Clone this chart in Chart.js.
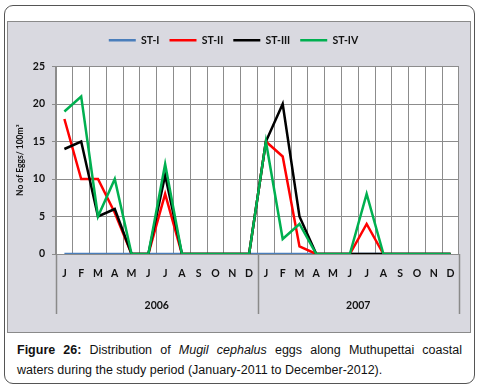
<!DOCTYPE html>
<html>
<head>
<meta charset="utf-8">
<script src="https://cdn.jsdelivr.net/npm/chart.js@4/dist/chart.umd.min.js"></script>
<style>
    html, body { margin: 0; padding: 0; background: #fff; }
    body { width: 480px; height: 392px; position: relative; overflow: hidden; }
    #frame {
        position: absolute; left: 4px; top: 5px; width: 469px; height: 377px;
        border: 1.5px solid #555; border-radius: 9px;
    }
    #panel {
        position: absolute; left: 7px; top: 21px; width: 462px; height: 310px;
        background: #d9d9e0; border: 1.5px solid #8a8a8a;
    }
    #chart_box { position: absolute; left: 0; top: 0; width: 462px; height: 310px; }
    #caption {
        position: absolute; left: 17px; top: 340px; width: 445px;
        font-family: "Liberation Sans", Arial, sans-serif; font-size: 12.5px;
        line-height: 20px; color: #111;
    }
    #caption .first { display: block; text-align: justify; text-align-last: justify; white-space: nowrap; }
</style>
</head>
<body>
<div id="frame"></div>
<div id="panel"><div id="chart_box"><canvas id="chart"></canvas></div></div>
<div id="caption"><span class="first"><b>Figure 26:</b> Distribution of <i>Mugil cephalus</i> eggs along Muthupettai coastal</span>waters during the study period (January-2011 to December-2012).</div>
<script>
const MONTHS = ['J', 'F', 'M', 'A', 'M', 'J', 'J', 'A', 'S', 'O', 'N', 'D',
                'J', 'F', 'M', 'A', 'M', 'J', 'J', 'A', 'S', 'O', 'N', 'D'];
const YEARS = ['2006', '2007'];

const st_1 = [0, 0, 0, 0, 0, 0, 0, 0, 0, 0, 0, 0, 0, 0, 0, 0, 0, 0, 0, 0, 0, 0, 0, 0];
const st_2 = [18, 10, 10, 5.5, 0, 0, 8, 0, 0, 0, 0, 0, 15, 13, 1, 0, 0, 0, 4, 0, 0, 0, 0, 0];
const st_3 = [14, 15, 5, 6, 0, 0, 10.5, 0, 0, 0, 0, 0, 15, 20, 5, 0, 0, 0, 0, 0, 0, 0, 0, 0];
const st_4 = [19, 21, 5, 10, 0, 0, 12, 0, 0, 0, 0, 0, 15, 2, 4, 0, 0, 0, 8, 0, 0, 0, 0, 0];

const Y_TICKS = [0, 5, 10, 15, 20, 25];
const AXIS_FONT = { family: 'Lato', weight: 'bold', size: 10.5 };

function make_series(label, data, color, order) {
    return {
        label,
        data,
        borderColor: color,
        backgroundColor: color,
        borderWidth: 2.5,
        pointRadius: 0,
        tension: 0,
        order,
    };
}

// white plot background, like the excel plot area
const plot_background = {
    id: 'plot_background',
    beforeDraw(chart) {
        const { ctx, chartArea } = chart;
        ctx.save();
        ctx.fillStyle = '#ffffff';
        ctx.fillRect(chartArea.left, chartArea.top, chartArea.right - chartArea.left, chartArea.bottom - chartArea.top);
        ctx.restore();
    }
};

// extra room under the legend before the plot starts
const legend_gap = {
    id: 'legend_gap',
    beforeInit(chart) {
        const fit = chart.legend.fit;
        chart.legend.fit = function () {
            fit.call(this);
            this.height += 11;
        };
    }
};

// long separators between the year groups under the axis
const year_separators = {
    id: 'year_separators',
    afterDraw(chart) {
        const { ctx, chartArea } = chart;
        const years = chart.scales.year;
        const xs = [years.left, years.getPixelForValue(0.5), years.right];
        ctx.save();
        ctx.strokeStyle = '#8a8a8a';
        ctx.lineWidth = 1.5;
        for (const x of xs) {
            const px = Math.round(x) + 0.5;
            ctx.beginPath();
            ctx.moveTo(px, chartArea.bottom);
            ctx.lineTo(px, years.bottom - 6);
            ctx.stroke();
        }
        ctx.restore();
    }
};

new Chart(document.getElementById('chart'), {
    type: 'line',
    data: {
        labels: MONTHS,
        datasets: [
            make_series('ST-I', st_1, '#4a7ebb', 4),
            make_series('ST-II', st_2, '#ff0000', 3),
            make_series('ST-III', st_3, '#000000', 2),
            make_series('ST-IV', st_4, '#00b050', 1),
        ]
    },
    options: {
        responsive: true,
        maintainAspectRatio: false,
        animation: false,
        layout: { padding: { top: 3, left: 0, right: 11, bottom: 12 } },
        plugins: {
            tooltip: { enabled: false },
            legend: {
                position: 'top',
                labels: {
                    usePointStyle: true,
                    pointStyle: 'line',
                    pointStyleWidth: 27,
                    boxWidth: 27,
                    boxHeight: 10,
                    padding: 10,
                    color: '#111',
                    font: { family: 'Lato', weight: 'bold', size: 10.5 },
                    sort: (a, b) => a.datasetIndex - b.datasetIndex,
                },
            },
        },
        scales: {
            x: {
                type: 'category',
                position: 'bottom',
                offset: true,
                grid: { offset: true, color: '#8c8c8c', drawTicks: false },
                border: { color: '#8c8c8c' },
                ticks: { color: '#111', font: AXIS_FONT, padding: 13, autoSkip: false, maxRotation: 0 },
                afterFit(scale) { scale.height = 26; },
            },
            year: {
                type: 'category',
                position: 'bottom',
                labels: YEARS,
                offset: true,
                grid: { display: false },
                border: { display: false },
                ticks: { color: '#111', font: AXIS_FONT, padding: 11, maxRotation: 0 },
                afterFit(scale) { scale.height = 40; },
            },
            y: {
                min: 0,
                max: 25,
                afterBuildTicks(scale) { scale.ticks = Y_TICKS.map(v => ({ value: v })); },
                grid: { color: '#8c8c8c', tickLength: 4 },
                border: { color: '#8c8c8c' },
                ticks: { color: '#111', font: AXIS_FONT, padding: 7 },
                title: {
                    display: true,
                    text: 'No of Eggs/ 100m³',
                    color: '#111',
                    font: { family: 'Lato', weight: 'bold', size: 8.5 },
                    padding: { top: 7, bottom: 0 },
                },
                afterFit(scale) { scale.width = 48; },
            },
        },
    },
    plugins: [plot_background, legend_gap, year_separators],
});
</script>
</body>
</html>
